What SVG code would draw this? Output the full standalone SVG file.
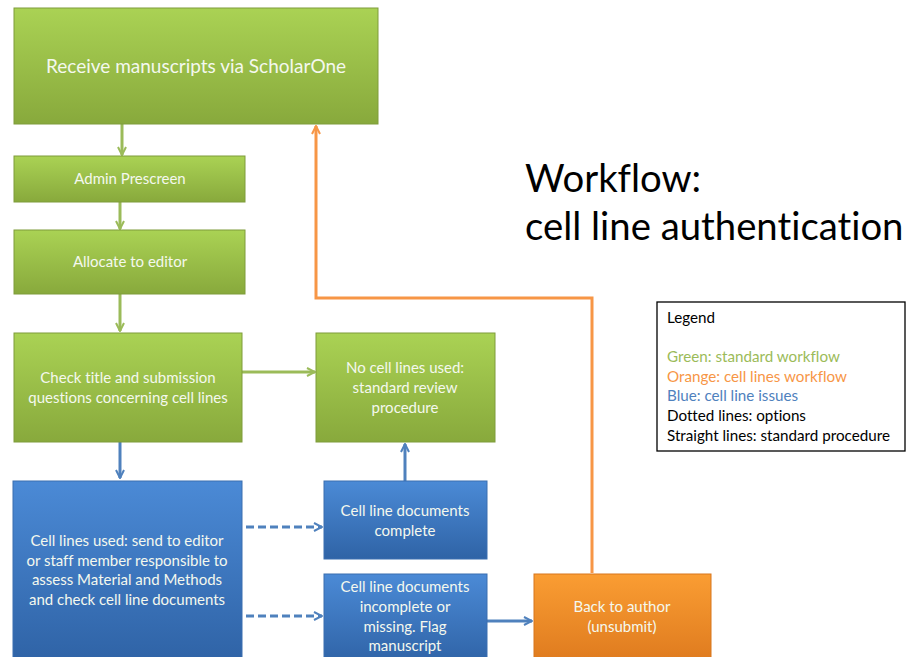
<svg xmlns="http://www.w3.org/2000/svg" width="910" height="657" viewBox="0 0 910 657">
<defs>
<linearGradient id="gG" x1="0" y1="0" x2="0" y2="1"><stop offset="0" stop-color="#aad254"/><stop offset="1" stop-color="#88a93c"/></linearGradient>
<linearGradient id="gB" x1="0" y1="0" x2="0" y2="1"><stop offset="0" stop-color="#4b8ad6"/><stop offset="1" stop-color="#2f63a6"/></linearGradient>
<linearGradient id="gO" x1="0" y1="0" x2="0" y2="1"><stop offset="0" stop-color="#fa9d33"/><stop offset="1" stop-color="#de7a1e"/></linearGradient>
<marker id="aG" viewBox="0 0 10 10" refX="9" refY="5" markerWidth="10" markerHeight="10" markerUnits="userSpaceOnUse" orient="auto"><path d="M1,1 L9,5 L1,9" fill="none" stroke="#9bbb59" stroke-width="2"/></marker>
<marker id="aB" viewBox="0 0 10 10" refX="9" refY="5" markerWidth="10" markerHeight="10" markerUnits="userSpaceOnUse" orient="auto"><path d="M1,1 L9,5 L1,9" fill="none" stroke="#4f81bd" stroke-width="2"/></marker>
<marker id="aO" viewBox="0 0 10 10" refX="9" refY="5" markerWidth="10" markerHeight="10" markerUnits="userSpaceOnUse" orient="auto"><path d="M1,1 L9,5 L1,9" fill="none" stroke="#f79646" stroke-width="2"/></marker>
</defs>
<style>
text{font-variant-ligatures:none}
.g{fill:url(#gG);stroke:#7f9c3a;stroke-width:1}
.b{fill:url(#gB);stroke:#3a6fb0;stroke-width:1}
.o{fill:url(#gO);stroke:#d8761c;stroke-width:1}
.t{font-family:Lato,"Open Sans","Liberation Sans",sans-serif;font-size:15px;fill:#f4f8ee;text-anchor:middle}
.big{font-size:19px}
.cg{stroke:#9bbb59;stroke-width:3;fill:none}
.cb{stroke:#4f81bd;stroke-width:3;fill:none}
.co{stroke:#f79646;stroke-width:3;fill:none}
.title{font-family:Lato,"Open Sans","Liberation Sans",sans-serif;font-size:38.3px;fill:#000}
.lg{font-family:Lato,"Open Sans","Liberation Sans",sans-serif;font-size:15.2px}
</style>
<rect width="910" height="657" fill="#ffffff"/>
<g id="connectors">
<line class="cg" x1="122" y1="124" x2="122" y2="155" marker-end="url(#aG)"/>
<line class="cg" x1="120" y1="202" x2="120" y2="229" marker-end="url(#aG)"/>
<line class="cg" x1="120" y1="294" x2="120" y2="331" marker-end="url(#aG)"/>
<line class="cg" x1="242" y1="372" x2="315" y2="372" marker-end="url(#aG)"/>
<line class="cb" x1="120" y1="442" x2="120" y2="478" marker-end="url(#aB)"/>
<line class="cb" x1="405" y1="481" x2="405" y2="444" marker-end="url(#aB)"/>
<line class="cb" x1="246" y1="527" x2="322" y2="527" stroke-dasharray="8,4" marker-end="url(#aB)"/>
<line class="cb" x1="246" y1="616" x2="322" y2="616" stroke-dasharray="8,4" marker-end="url(#aB)"/>
<line class="cb" x1="487" y1="621" x2="532" y2="621" marker-end="url(#aB)"/>
<polyline class="co" points="592,573 592,298 316,298 316,126" marker-end="url(#aO)"/>
</g>
<g id="receive"><rect class="g" x="14" y="8" width="364" height="116"/><text class="t big" x="196" y="73">Receive manuscripts via ScholarOne</text></g>
<g id="prescreen"><rect class="g" x="14" y="156" width="231" height="46"/><text class="t" x="130" y="184">Admin Prescreen</text></g>
<g id="allocate"><rect class="g" x="14" y="230" width="231" height="64"/><text class="t" x="130" y="267">Allocate to editor</text></g>
<g id="check"><rect class="g" x="14" y="333" width="228" height="109"/><text class="t" x="128" y="383">Check title and submission</text><text class="t" x="128" y="403">questions concerning cell lines</text></g>
<g id="nocell"><rect class="g" x="316" y="333" width="179" height="109"/><text class="t" x="405" y="373">No cell lines used:</text><text class="t" x="405" y="393">standard review</text><text class="t" x="405" y="413">procedure</text></g>
<g id="cellused"><rect class="b" x="13" y="481" width="229" height="180"/><text class="t" x="127" y="546">Cell lines used: send to editor</text><text class="t" x="127" y="566">or staff member responsible to</text><text class="t" x="127" y="585">assess Material and Methods</text><text class="t" x="127" y="605">and check cell line documents</text></g>
<g id="complete"><rect class="b" x="324" y="481" width="163" height="78"/><text class="t" x="405" y="516">Cell line documents</text><text class="t" x="405" y="536">complete</text></g>
<g id="incomplete"><rect class="b" x="324" y="574" width="163" height="90"/><text class="t" x="405" y="592">Cell line documents</text><text class="t" x="405" y="612">incomplete or</text><text class="t" x="405" y="632">missing. Flag</text><text class="t" x="405" y="651">manuscript</text></g>
<g id="back"><rect class="o" x="534" y="574" width="177" height="90"/><text class="t" x="622" y="612">Back to author</text><text class="t" x="622" y="632">(unsubmit)</text></g>
<g id="title"><text class="title" x="525" y="192">Workflow:</text><text class="title" x="525" y="240">cell line authentication</text></g>
<g id="legend"><rect x="657" y="302" width="248" height="149" fill="#fff" stroke="#000" stroke-width="1.3"/>
<text class="lg" x="667" y="323" fill="#000">Legend</text>
<text class="lg" x="667" y="362" fill="#9bbb59">Green: standard workflow</text>
<text class="lg" x="667" y="382" fill="#f79646">Orange: cell lines workflow</text>
<text class="lg" x="667" y="401" fill="#4f81bd">Blue: cell line issues</text>
<text class="lg" x="667" y="421" fill="#000">Dotted lines: options</text>
<text class="lg" x="667" y="441" fill="#000">Straight lines: standard procedure</text>
</g>
</svg>
